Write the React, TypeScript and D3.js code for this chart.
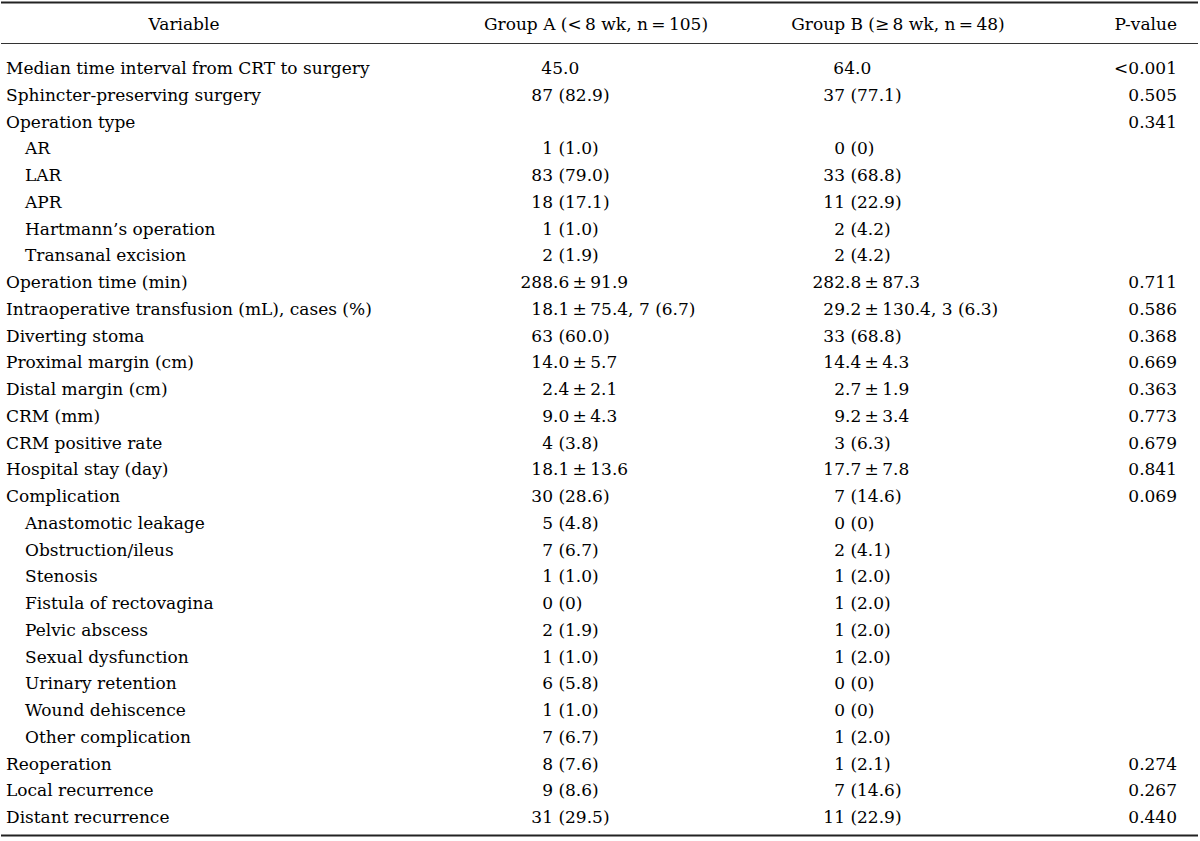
import React from "react";
import * as d3 from "d3";

const headers = ["Variable", "Group A (<\u20098 wk, n\u2009=\u2009105)", "Group B (\u2265\u20098 wk, n\u2009=\u200948)", "P-value"];

const variables = [
  "Median time interval from CRT to surgery",
  "Sphincter-preserving surgery",
  "Operation type",
  "AR",
  "LAR",
  "APR",
  "Hartmann\u2019s operation",
  "Transanal excision",
  "Operation time (min)",
  "Intraoperative transfusion (mL), cases (%)",
  "Diverting stoma",
  "Proximal margin (cm)",
  "Distal margin (cm)",
  "CRM (mm)",
  "CRM positive rate",
  "Hospital stay (day)",
  "Complication",
  "Anastomotic leakage",
  "Obstruction/ileus",
  "Stenosis",
  "Fistula of rectovagina",
  "Pelvic abscess",
  "Sexual dysfunction",
  "Urinary retention",
  "Wound dehiscence",
  "Other complication",
  "Reoperation",
  "Local recurrence",
  "Distant recurrence",
];

const levels = [0, 0, 0, 1, 1, 1, 1, 1, 0, 0, 0, 0, 0, 0, 0, 0, 0, 1, 1, 1, 1, 1, 1, 1, 1, 1, 0, 0, 0];

const PM = "\u2009\u00b1\u2009";

const groupA = [
  "45.0", "87 (82.9)", "", "1 (1.0)", "83 (79.0)", "18 (17.1)", "1 (1.0)", "2 (1.9)",
  `288.6${PM}91.9`, `18.1${PM}75.4, 7 (6.7)`, "63 (60.0)", `14.0${PM}5.7`, `2.4${PM}2.1`,
  `9.0${PM}4.3`, "4 (3.8)", `18.1${PM}13.6`, "30 (28.6)", "5 (4.8)", "7 (6.7)", "1 (1.0)",
  "0 (0)", "2 (1.9)", "1 (1.0)", "6 (5.8)", "1 (1.0)", "7 (6.7)", "8 (7.6)", "9 (8.6)", "31 (29.5)",
];

const groupB = [
  "64.0", "37 (77.1)", "", "0 (0)", "33 (68.8)", "11 (22.9)", "2 (4.2)", "2 (4.2)",
  `282.8${PM}87.3`, `29.2${PM}130.4, 3 (6.3)`, "33 (68.8)", `14.4${PM}4.3`, `2.7${PM}1.9`,
  `9.2${PM}3.4`, "3 (6.3)", `17.7${PM}7.8`, "7 (14.6)", "0 (0)", "2 (4.1)", "1 (2.0)",
  "1 (2.0)", "1 (2.0)", "1 (2.0)", "0 (0)", "0 (0)", "1 (2.0)", "1 (2.1)", "7 (14.6)", "11 (22.9)",
];

const pValues = [
  "<0.001", "0.505", "0.341", "", "", "", "", "", "0.711", "0.586", "0.368", "0.669", "0.363",
  "0.773", "0.679", "0.841", "0.069", "", "", "", "", "", "", "", "", "", "0.274", "0.267", "0.440",
];

const W = 1200;
const H = 841;
const FONT = "'DejaVu Serif', serif";
const FS = 17;
const COLOR = "#000";

function AlignedCell({ value, anchor, y }: { value: string; anchor: number; y: number }) {
  if (!value) return null;
  const m = value.match(/^(\d+)(.*)$/);
  if (!m) return <text x={anchor} y={y}>{value}</text>;
  const pure = /^\d+\.\d+$/.test(value);
  const a = pure ? anchor + 10 : anchor;
  return (
    <g>
      <text x={a} y={y} textAnchor="end">{m[1]}</text>
      <text x={a} y={y} style={{ whiteSpace: "pre" }}>{m[2]}</text>
    </g>
  );
}

export default function App() {
  const idx = variables.map((_, i) => i);
  const y = d3.scalePoint<number>().domain(idx).range([74, 823]);
  const colA = 553;
  const colB = 845;
  const pRight = 1177;
  return (
    <svg width={W} height={H} style={{ position: "absolute", left: 0, top: 0, background: "#fff" }}>
      <rect width={W} height={H} fill="#fff" />
      <g fontFamily={FONT} fontSize={FS} fill={COLOR}>
        <line x1={1} x2={1198} y1={2.5} y2={2.5} stroke="#222" strokeWidth={2} />
        <line x1={1} x2={1198} y1={43.5} y2={43.5} stroke="#333" strokeWidth={1.2} />
        <line x1={1} x2={1198} y1={835.5} y2={835.5} stroke="#222" strokeWidth={2} />
        <text x={184} y={30} textAnchor="middle">{headers[0]}</text>
        <text x={596} y={30} textAnchor="middle">{headers[1]}</text>
        <text x={898} y={30} textAnchor="middle">{headers[2]}</text>
        <text x={pRight} y={30} textAnchor="end">{headers[3]}</text>
        {idx.map((i) => (
          <g key={i}>
            <text x={levels[i] ? 25 : 6} y={y(i)}>{variables[i]}</text>
            <AlignedCell value={groupA[i]} anchor={colA} y={y(i)!} />
            <AlignedCell value={groupB[i]} anchor={colB} y={y(i)!} />
            {pValues[i] && <text x={pRight} y={y(i)} textAnchor="end">{pValues[i]}</text>}
          </g>
        ))}
      </g>
    </svg>
  );
}
